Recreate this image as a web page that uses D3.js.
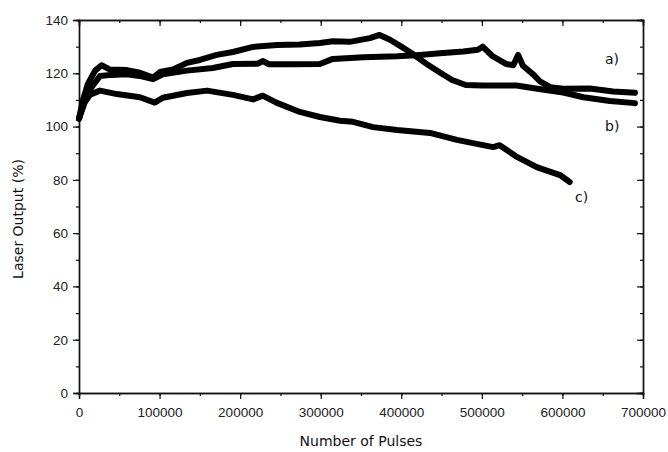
<!DOCTYPE html>
<html>
<head>
<meta charset="utf-8">
<script src="https://cdn.jsdelivr.net/npm/d3@7/dist/d3.min.js"></script>
<style>
  html, body { margin: 0; padding: 0; background: #fff; }
  svg { display: block; }
  .tick text { font-family: "Liberation Sans", Arial, sans-serif; font-size: 13.5px; fill: #222; }
  .title { font-family: "Comic Sans MS", "DejaVu Sans", sans-serif; font-size: 14px; fill: #111; }
</style>
</head>
<body>
<svg id="chart" width="668" height="452"></svg>
<script>
// Laser output (%) versus number of pulses for three samples a), b), c)
const pulsesA = [0, 5000, 10000, 15000, 26000, 40000, 59600, 75000, 92000, 104000, 134000, 166000, 191000, 222000, 228000, 236000, 266000, 299000, 315000, 353000, 395000, 423000, 448000, 477000, 495000, 501000, 513000, 530000, 539000, 545000, 551000, 564000, 572000, 585000, 601000, 634000, 663000, 690000];
const outputA = [103, 108, 112, 114.5, 119, 119.4, 119.6, 119, 117.8, 119.6, 121, 122, 123.5, 123.6, 124.6, 123.4, 123.4, 123.5, 125.4, 126, 126.4, 126.9, 127.5, 128.2, 128.8, 130, 126.5, 123.5, 123, 126.9, 122.8, 119.5, 117, 114.8, 114.2, 114.3, 113.2, 112.7];

const pulsesB = [0, 5000, 11000, 20000, 28000, 38500, 59600, 75700, 92000, 100500, 116700, 134000, 150000, 171000, 191000, 216000, 246000, 274000, 299000, 315000, 336000, 361000, 373000, 386000, 400000, 413000, 430000, 447000, 463000, 480000, 501000, 543000, 573000, 601000, 626000, 659000, 690000];
const outputB = [103, 110, 116, 121, 123, 121.4, 121.2, 120.2, 118.4, 120.5, 121.4, 123.9, 125, 126.9, 128, 129.9, 130.6, 130.8, 131.4, 132, 131.8, 133.2, 134.4, 132.6, 130, 127.5, 123.8, 120.5, 117.5, 115.6, 115.4, 115.4, 114, 112.8, 111, 109.6, 108.8];

const pulsesC = [0, 7000, 13700, 26000, 47000, 75700, 94000, 104000, 134000, 159000, 191000, 216000, 228000, 245000, 274000, 299000, 324000, 340000, 365000, 394700, 435600, 469000, 489000, 514000, 522000, 543600, 568000, 597000, 609000];
const outputC = [103, 109, 112, 113.5, 112.2, 111, 109, 110.8, 112.6, 113.5, 111.9, 110.2, 111.6, 109, 105.5, 103.6, 102.2, 101.8, 99.8, 98.7, 97.6, 95, 93.8, 92.3, 93, 88.6, 84.8, 81.8, 79.2];

const seriesLabels = ["a)", "b)", "c)"];
const xTicks = [0, 100000, 200000, 300000, 400000, 500000, 600000, 700000];
const yTicks = [0, 20, 40, 60, 80, 100, 120, 140];

const margin = { left: 79, right: 25, top: 20, bottom: 59 };
const W = 668, H = 452;
const svg = d3.select("#chart");

const x = d3.scaleLinear().domain([0, 700000]).range([margin.left, W - margin.right]);
const y = d3.scaleLinear().domain([0, 140]).range([H - margin.bottom, margin.top]);

const minorX = d3.range(0, 700001, 50000);
const minorY = d3.range(0, 141, 10);

function styleAxis(g) {
  g.selectAll(".domain").attr("stroke", "#111").attr("stroke-width", 1.4);
  g.selectAll(".tick line").attr("stroke", "#111").attr("stroke-width", 1.2);
}

// minor ticks (unlabelled) on all sides
svg.append("g").attr("transform", `translate(0,${y(0)})`)
  .call(d3.axisBottom(x).tickValues(minorX).tickSize(3).tickFormat(""))
  .call(styleAxis);
svg.append("g").attr("transform", `translate(0,${y(140)})`)
  .call(d3.axisBottom(x).tickValues(minorX).tickSize(3).tickFormat(""))
  .call(styleAxis);
svg.append("g").attr("transform", `translate(${x(0)},0)`)
  .call(d3.axisLeft(y).tickValues(minorY).tickSize(3).tickFormat(""))
  .call(styleAxis);
svg.append("g").attr("transform", `translate(${x(700000)},0)`)
  .call(d3.axisLeft(y).tickValues(minorY).tickSize(3).tickFormat(""))
  .call(styleAxis);

// major ticks with labels
svg.append("g").attr("transform", `translate(0,${y(0)})`)
  .call(d3.axisBottom(x).tickValues(xTicks).tickSize(6).tickPadding(8).tickFormat(d3.format("d")))
  .call(styleAxis);
svg.append("g").attr("transform", `translate(${x(0)},0)`)
  .call(d3.axisLeft(y).tickValues(yTicks).tickSize(6).tickPadding(5).tickFormat(d3.format("d")))
  .call(styleAxis);
svg.append("g").attr("transform", `translate(0,${y(140)})`)
  .call(d3.axisBottom(x).tickValues(xTicks).tickSize(6).tickFormat(""))
  .call(styleAxis);
svg.append("g").attr("transform", `translate(${x(700000)},0)`)
  .call(d3.axisLeft(y).tickValues(yTicks).tickSize(6).tickFormat(""))
  .call(styleAxis);

// data curves (broad, dense traces)
const line = d3.line().x(d => x(d[0])).y(d => y(d[1]));
const allSeries = [
  d3.zip(pulsesC, outputC),
  d3.zip(pulsesA, outputA),
  d3.zip(pulsesB, outputB)
];
svg.append("g").selectAll("path").data(allSeries).join("path")
  .attr("d", line)
  .attr("fill", "none")
  .attr("stroke", "#000")
  .attr("stroke-width", 6)
  .attr("stroke-linejoin", "round")
  .attr("stroke-linecap", "round");

// series labels
const labelPos = [[605, 64], [605, 131], [575, 202]];
svg.append("g").selectAll("text").data(seriesLabels).join("text")
  .attr("class", "title")
  .attr("x", (d, i) => labelPos[i][0])
  .attr("y", (d, i) => labelPos[i][1])
  .text(d => d);

// axis titles
svg.append("text").attr("class", "title")
  .attr("x", 361).attr("y", 446).attr("text-anchor", "middle")
  .text("Number of Pulses");
svg.append("text").attr("class", "title")
  .attr("transform", `translate(23,219) rotate(-90)`)
  .attr("text-anchor", "middle")
  .text("Laser Output (%)");
</script>
</body>
</html>
